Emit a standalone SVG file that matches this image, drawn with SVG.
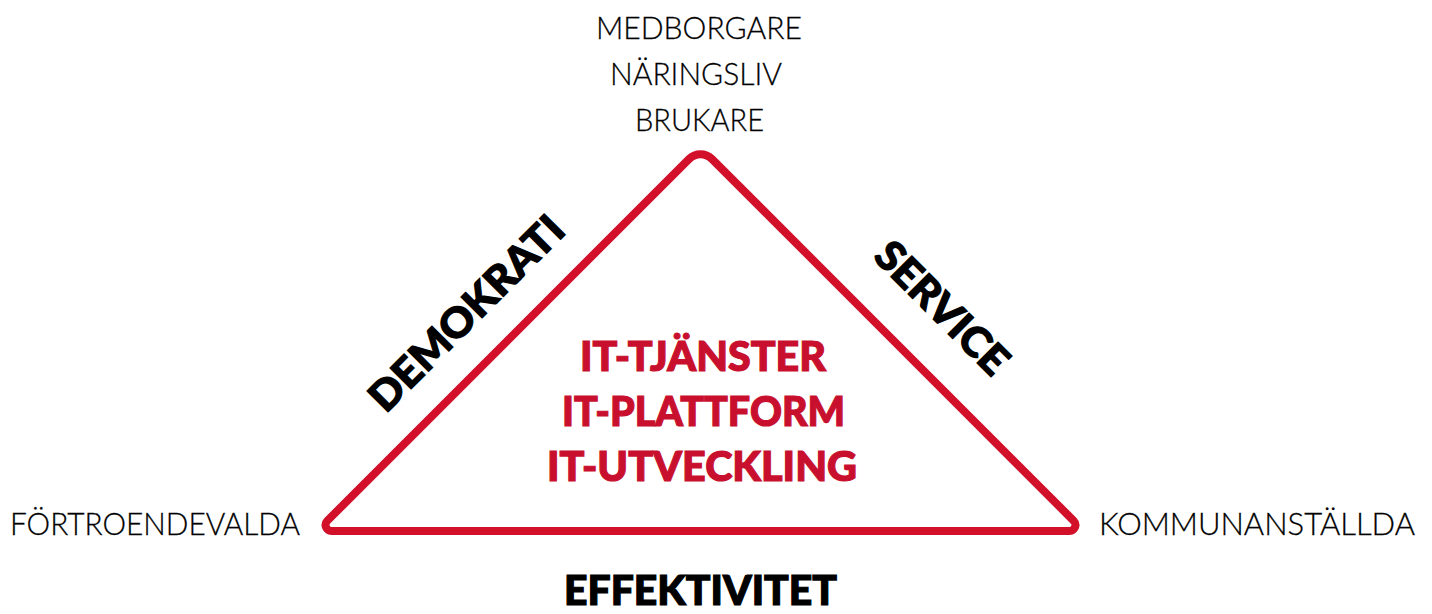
<svg xmlns="http://www.w3.org/2000/svg" width="1432" height="614" viewBox="0 0 1432 614">
<style>
.thin{font-family:"Lato","Liberation Sans",sans-serif;font-weight:300;font-size:32px;fill:#000;stroke:#000;stroke-width:0.3;}
.bold{font-family:"Lato","Liberation Sans",sans-serif;font-weight:900;font-size:41px;fill:#000;stroke:#000;stroke-width:1.2;}
.red{font-family:"Lato","Liberation Sans",sans-serif;font-weight:900;font-size:41px;fill:#c8102e;stroke:#c8102e;stroke-width:1.2;}
.tri{fill:none;stroke:#d2102a;stroke-width:8;stroke-linejoin:round;}
</style>
<rect width="1432" height="614" fill="#ffffff"/>
<g id="triangle">
<path class="tri" d="M 689.2 158.8 A 16 16 0 0 1 711.8 158.8 L 1073.7 520.8 A 6 6 0 0 1 1069.5 531 L 331.5 531 A 6 6 0 0 1 327.3 520.8 Z"/>
</g>
<g id="top-actors">
<text class="thin" x="699" y="39" text-anchor="middle" textLength="206" lengthAdjust="spacingAndGlyphs">MEDBORGARE</text>
<text class="thin" x="696" y="85" text-anchor="middle" textLength="172" lengthAdjust="spacingAndGlyphs">NÄRINGSLIV</text>
<text class="thin" x="699.5" y="131" text-anchor="middle" textLength="129" lengthAdjust="spacingAndGlyphs">BRUKARE</text>
</g>
<g id="left-actor">
<text class="thin" x="155" y="535" text-anchor="middle" textLength="290" lengthAdjust="spacingAndGlyphs">FÖRTROENDEVALDA</text>
</g>
<g id="right-actor">
<text class="thin" x="1257" y="535" text-anchor="middle" textLength="316" lengthAdjust="spacingAndGlyphs">KOMMUNANSTÄLLDA</text>
</g>
<g id="demokrati">
<text class="bold" transform="translate(476.5 323.5) rotate(-45)" x="0" y="0" text-anchor="middle" textLength="257" lengthAdjust="spacingAndGlyphs">DEMOKRATI</text>
</g>
<g id="service">
<text class="bold" transform="translate(932 318) rotate(45)" x="0" y="0" text-anchor="middle" textLength="170" lengthAdjust="spacingAndGlyphs">SERVICE</text>
</g>
<g id="effektivitet">
<text class="bold" x="700.5" y="605" text-anchor="middle" textLength="273" lengthAdjust="spacingAndGlyphs">EFFEKTIVITET</text>
</g>
<g id="center">
<text class="red" x="703" y="371" text-anchor="middle" textLength="246" lengthAdjust="spacingAndGlyphs">IT-TJÄNSTER</text>
<text class="red" x="703.5" y="426" text-anchor="middle" textLength="283" lengthAdjust="spacingAndGlyphs">IT-PLATTFORM</text>
<text class="red" x="702" y="481" text-anchor="middle" textLength="310" lengthAdjust="spacingAndGlyphs">IT-UTVECKLING</text>
</g>
</svg>
